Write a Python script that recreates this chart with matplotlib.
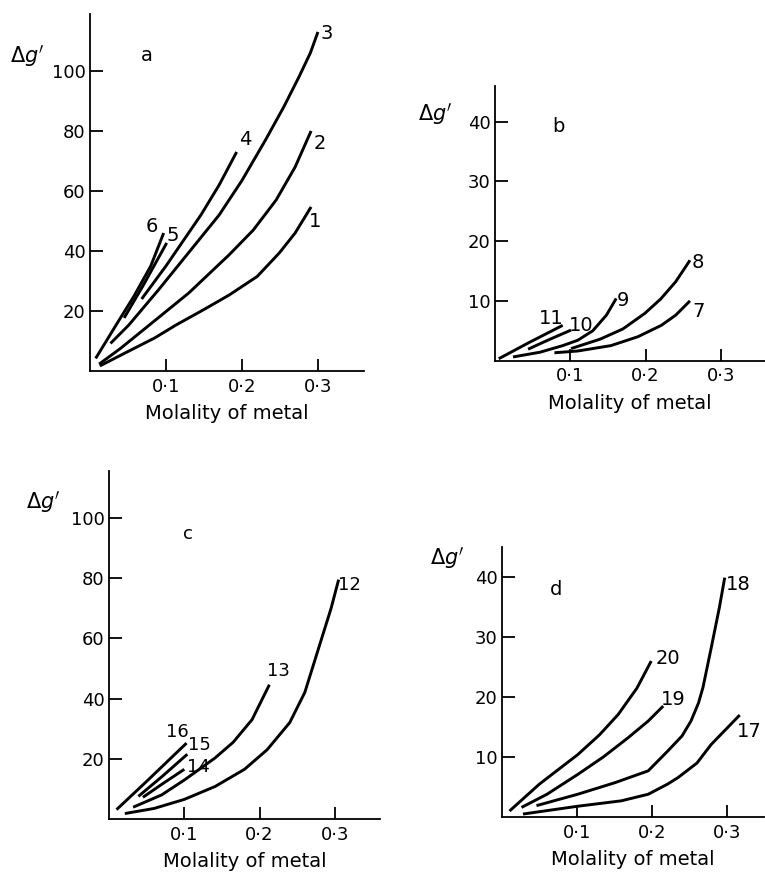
import matplotlib
matplotlib.use("Agg")
import matplotlib.pyplot as plt

plt.rcParams["font.family"] = ["DejaVu Sans"]

# ---- panel a: curves 1-6 (x = molality, y = delta g') ----
a1_x = [0.013, 0.05, 0.085, 0.113, 0.15, 0.183, 0.22, 0.249, 0.27, 0.291]
a1_y = [1.7, 6.5, 11.0, 15.3, 20.5, 25.3, 31.5, 39.3, 46.0, 54.7]
a2_x = [0.012, 0.04, 0.078, 0.13, 0.183, 0.215, 0.245, 0.27, 0.291]
a2_y = [2.3, 7.5, 15.3, 26.0, 38.7, 47.0, 57.0, 68.0, 80.0]
a3_x = [0.027, 0.051, 0.09, 0.13, 0.17, 0.2, 0.231, 0.255, 0.275, 0.29, 0.30]
a3_y = [9.2, 15.3, 27.0, 39.5, 52.0, 63.5, 77.0, 88.0, 98.0, 106.0, 113.0]
a4_x = [0.068, 0.1, 0.146, 0.17, 0.193]
a4_y = [24.0, 35.0, 52.0, 62.0, 73.0]
a5_x = [0.045, 0.07, 0.101]
a5_y = [17.7, 28.5, 42.7]
a6_x = [0.0075, 0.036, 0.058, 0.08, 0.097]
a6_y = [4.2, 16.0, 25.0, 35.0, 46.0]

# ---- panel b: curves 7-11 ----
b7_x = [0.079, 0.11, 0.154, 0.19, 0.221, 0.24, 0.259]
b7_y = [1.3, 1.6, 2.5, 4.0, 5.9, 7.6, 10.0]
b8_x = [0.101, 0.14, 0.17, 0.199, 0.22, 0.24, 0.259]
b8_y = [2.0, 3.6, 5.3, 7.9, 10.3, 13.2, 16.8]
b9_x = [0.024, 0.06, 0.09, 0.11, 0.13, 0.148, 0.161]
b9_y = [0.6, 1.4, 2.5, 3.4, 5.0, 7.6, 10.4]
b10_x = [0.044, 0.07, 0.101]
b10_y = [1.9, 3.4, 5.1]
b11_x = [0.005, 0.045, 0.09]
b11_y = [0.3, 3.0, 5.9]

# ---- panel c: curves 12-16 ----
c12_x = [0.021, 0.06, 0.1, 0.141, 0.18, 0.21, 0.24, 0.26, 0.28, 0.295, 0.305]
c12_y = [1.8, 3.5, 6.5, 10.8, 16.5, 23.0, 32.0, 42.0, 58.0, 70.0, 79.5]
c13_x = [0.032, 0.07, 0.101, 0.141, 0.165, 0.19, 0.213]
c13_y = [3.9, 8.0, 13.1, 20.3, 25.5, 33.0, 44.6]
c14_x = [0.045, 0.07, 0.100]
c14_y = [7.2, 11.5, 16.5]
c15_x = [0.039, 0.07, 0.104]
c15_y = [7.5, 14.0, 21.5]
c16_x = [0.01, 0.05, 0.103]
c16_y = [3.1, 12.5, 25.2]

# ---- panel d: curves 17-20 ----
d17_x = [0.028, 0.101, 0.159, 0.195, 0.221, 0.235, 0.26, 0.279, 0.3, 0.317]
d17_y = [0.5, 1.8, 2.7, 3.8, 5.5, 6.6, 9.0, 12.1, 14.8, 17.0]
d18_x = [0.046, 0.101, 0.15, 0.195, 0.221, 0.24, 0.252, 0.262, 0.268, 0.279, 0.29, 0.297]
d18_y = [1.9, 3.8, 5.7, 7.7, 11.0, 13.5, 16.0, 19.0, 21.6, 28.2, 35.0, 39.9]
d19_x = [0.026, 0.06, 0.101, 0.135, 0.168, 0.195, 0.215]
d19_y = [1.6, 3.8, 7.1, 10.0, 13.2, 16.0, 18.5]
d20_x = [0.01, 0.05, 0.101, 0.13, 0.155, 0.18, 0.199]
d20_y = [1.0, 5.5, 10.4, 13.7, 17.1, 21.5, 26.0]

x_ticks = [0.1, 0.2, 0.3]
x_ticklabels = ["0·1", "0·2", "0·3"]
a_yticks = [20, 40, 60, 80, 100]
b_yticks = [10, 20, 30, 40]

LW = 2.1


def style_axes(ax, xmax, ymax, yticks):
    ax.set_xlim(0, xmax)
    ax.set_ylim(0, ymax)
    for side in ("top", "right"):
        ax.spines[side].set_visible(False)
    for side in ("left", "bottom"):
        ax.spines[side].set_linewidth(1.3)
    ax.set_xticks(x_ticks)
    ax.set_xticklabels(x_ticklabels)
    ax.set_yticks(yticks)
    ax.tick_params(axis="x", direction="in", length=9, width=1.3, pad=5, labelsize=13)
    ax.tick_params(axis="y", direction="in", length=9.5, width=1.3, pad=3, labelsize=13)
    ax.set_xlabel("Molality of metal", fontsize=14, labelpad=6)
    ax.patch.set_alpha(0)


fig = plt.figure(figsize=(7.65, 8.73), dpi=100)

# panel a
ax_a = fig.add_axes([0.1176, 0.575, 0.3576, 0.409])
for xs, ys in [(a1_x, a1_y), (a2_x, a2_y), (a3_x, a3_y), (a4_x, a4_y), (a5_x, a5_y), (a6_x, a6_y)]:
    ax_a.plot(xs, ys, color="black", lw=LW, solid_capstyle="butt")
style_axes(ax_a, 0.36, 119, a_yticks)
for txt, x, y in [("1", 0.296, 49.7), ("2", 0.302, 75.9), ("3", 0.312, 112.6),
                  ("4", 0.205, 77), ("5", 0.109, 45.3), ("6", 0.082, 48.1), ("a", 0.075, 105)]:
    ax_a.text(x, y, txt, fontsize=14, ha="center", va="center")

# panel b
ax_b = fig.add_axes([0.647, 0.587, 0.3524, 0.3146])
for xs, ys in [(b7_x, b7_y), (b8_x, b8_y), (b9_x, b9_y), (b10_x, b10_y), (b11_x, b11_y)]:
    ax_b.plot(xs, ys, color="black", lw=LW, solid_capstyle="butt")
style_axes(ax_b, 0.358, 46, b_yticks)
for txt, x, y in [("7", 0.27, 8.2), ("8", 0.27, 16.5), ("9", 0.17, 10.1),
                  ("10", 0.115, 5.9), ("11", 0.075, 7.1), ("b", 0.084, 39.2)]:
    ax_b.text(x, y, txt, fontsize=14, ha="center", va="center")

# panel c
ax_c = fig.add_axes([0.1425, 0.0619, 0.3543, 0.3983])
for xs, ys in [(c12_x, c12_y), (c13_x, c13_y), (c14_x, c14_y), (c15_x, c15_y), (c16_x, c16_y)]:
    ax_c.plot(xs, ys, color="black", lw=LW, solid_capstyle="butt")
style_axes(ax_c, 0.36, 115.5, a_yticks)
for txt, x, y in [("12", 0.319, 77.8), ("13", 0.225, 49), ("14", 0.119, 17.4),
                  ("15", 0.12, 24.6), ("16", 0.091, 29.0), ("c", 0.105, 94.5)]:
    ax_c.text(x, y, txt, fontsize=13, ha="center", va="center")

# panel d
ax_d = fig.add_axes([0.6562, 0.0641, 0.3431, 0.3093])
for xs, ys in [(d17_x, d17_y), (d18_x, d18_y), (d19_x, d19_y), (d20_x, d20_y)]:
    ax_d.plot(xs, ys, color="black", lw=LW, solid_capstyle="butt")
style_axes(ax_d, 0.35, 45, b_yticks)
for txt, x, y in [("17", 0.33, 14.3), ("18", 0.315, 38.8), ("19", 0.228, 19.6),
                  ("20", 0.221, 26.5), ("d", 0.072, 38)]:
    ax_d.text(x, y, txt, fontsize=14, ha="center", va="center")

# y-axis labels (figure pixel positions)
for px, py in [(27, 56), (435, 114), (43, 502), (447, 558)]:
    fig.text(px / 765, 1 - py / 873, r"$\Delta g'$", fontsize=15, ha="center", va="center")

fig.savefig("out.png", dpi=100)
